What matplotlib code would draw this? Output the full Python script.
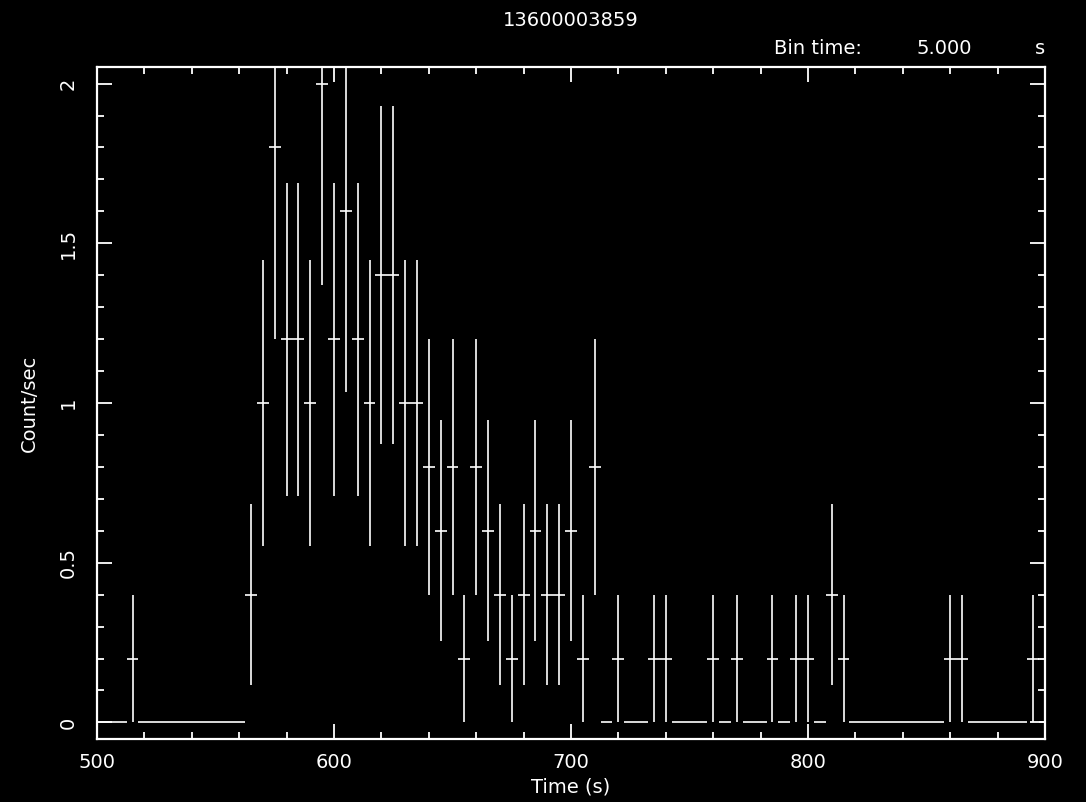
import numpy as np
import matplotlib
matplotlib.use("Agg")
import matplotlib.pyplot as plt
from matplotlib.ticker import MultipleLocator, FixedLocator

# ---- data ----
bin_time = 5.0
time_centers = list(range(500, 905, 5))
rates = [
    0.0, 0.0, 0.0, 0.2, 0.0, 0.0, 0.0, 0.0, 0.0, 0.0, 0.0, 0.0, 0.0,   # 500-560
    0.4, 1.0, 1.8, 1.2, 1.2, 1.0, 2.0, 1.2, 1.6, 1.2, 1.0, 1.4, 1.4,   # 565-625
    1.0, 1.0, 0.8, 0.6, 0.8, 0.2, 0.8, 0.6, 0.4, 0.2, 0.4, 0.6, 0.4,   # 630-690
    0.4, 0.6, 0.2, 0.8, 0.0,                                          # 695-715
    0.2, 0.0, 0.0, 0.2, 0.2, 0.0, 0.0, 0.0, 0.2, 0.0, 0.2, 0.0, 0.0,   # 720-780
    0.2, 0.0, 0.2, 0.2, 0.0, 0.4, 0.2, 0.0, 0.0, 0.0, 0.0, 0.0, 0.0,   # 785-845
    0.0, 0.0, 0.2, 0.2, 0.0, 0.0, 0.0, 0.0, 0.0, 0.2, 0.0,             # 850-900
]
rate_errs = [
    0.0, 0.0, 0.0, 0.2, 0.0, 0.0, 0.0, 0.0, 0.0, 0.0, 0.0, 0.0, 0.0,
    0.283, 0.447, 0.6, 0.49, 0.49, 0.447, 0.632, 0.49, 0.566, 0.49, 0.447, 0.529, 0.529,
    0.447, 0.447, 0.4, 0.346, 0.4, 0.2, 0.4, 0.346, 0.283, 0.2, 0.283, 0.346, 0.283,
    0.283, 0.346, 0.2, 0.4, 0.0,
    0.2, 0.0, 0.0, 0.2, 0.2, 0.0, 0.0, 0.0, 0.2, 0.0, 0.2, 0.0, 0.0,
    0.2, 0.0, 0.2, 0.2, 0.0, 0.283, 0.2, 0.0, 0.0, 0.0, 0.0, 0.0, 0.0,
    0.0, 0.0, 0.2, 0.2, 0.0, 0.0, 0.0, 0.0, 0.0, 0.2, 0.0,
]
edge_x = [900, 900]
edge_y = [1.92, 2.01]

title = "13600003859"
x_label = "Time (s)"
y_label = "Count/sec"
x_ticks = [500, 600, 700, 800, 900]
y_ticks = [0, 0.5, 1, 1.5, 2]
y_ticklabels = ["0", "0.5", "1", "1.5", "2"]

# ---- figure ----
W, H = 1086, 802
fig = plt.figure(figsize=(W / 100, H / 100), dpi=100, facecolor="black")
left, right, top, bottom = 97, 1045, 67, 739
ax = fig.add_axes([left / W, 1 - bottom / H, (right - left) / W, (bottom - top) / H])
ax.set_facecolor("black")

font = dict(family="DejaVu Sans", weight="normal", color="white")
fs = 14

ax.errorbar(time_centers, rates, xerr=bin_time / 2, yerr=rate_errs, fmt="none",
            ecolor="white", elinewidth=1.2, capsize=0)
ax.plot(edge_x, edge_y, color="white", lw=1.2, ls=(0, (3, 2)))

ax.set_xlim(500, 900)
ax.set_ylim(-0.052, 2.052)

for sp in ax.spines.values():
    sp.set_color("white")
    sp.set_linewidth(1.6)

ax.xaxis.set_major_locator(FixedLocator(x_ticks))
ax.xaxis.set_minor_locator(MultipleLocator(20))
ax.yaxis.set_major_locator(FixedLocator(y_ticks))
ax.yaxis.set_minor_locator(MultipleLocator(0.1))
ax.tick_params(which="both", direction="in", top=True, right=True, colors="white")
ax.tick_params(which="major", length=11, width=1.3)
ax.tick_params(which="minor", length=5, width=1.3)
ax.tick_params(axis="x", which="major", pad=10)
ax.tick_params(axis="y", which="major", pad=14)

ax.set_xticklabels([str(t) for t in x_ticks], fontsize=fs, **font)
ax.set_yticklabels(y_ticklabels, fontsize=fs, rotation=90, va="center", **font)

ax.set_xlabel(x_label, fontsize=fs, labelpad=4, **font)
ax.set_ylabel(y_label, fontsize=fs, labelpad=14, **font)

fig.text(571 / W, 1 - 20 / H, title, ha="center", va="center", fontsize=fs, **font)
fig.text(774 / W, 1 - 48 / H, "Bin time:", ha="left", va="center", fontsize=fs, **font)
fig.text(917 / W, 1 - 48 / H, "5.000", ha="left", va="center", fontsize=fs, **font)
fig.text(1045 / W, 1 - 48 / H, "s", ha="right", va="center", fontsize=fs, **font)

fig.savefig("out.png", dpi=100, facecolor="black")
